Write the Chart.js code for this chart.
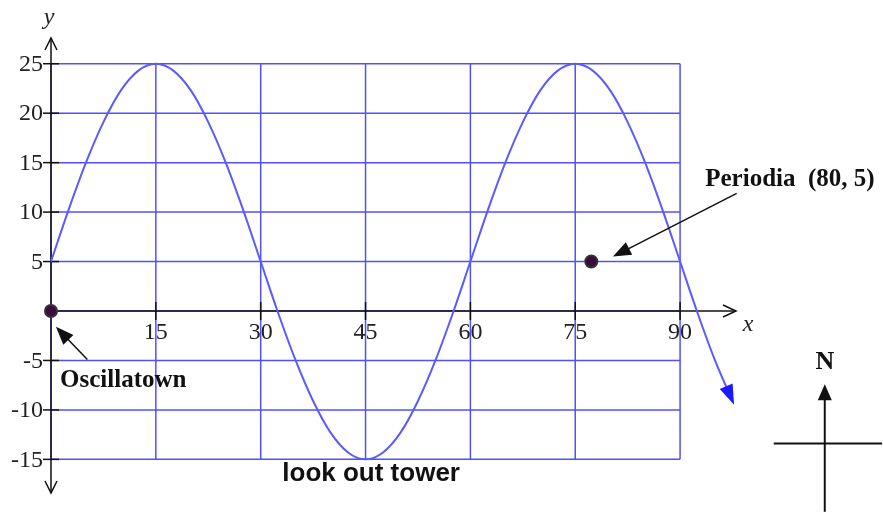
<!DOCTYPE html>
<html>
<head>
<meta charset="utf-8">
<script src="https://cdn.jsdelivr.net/npm/chart.js@4.4.1/dist/chart.umd.min.js"></script>
<style>
html, body { margin: 0; padding: 0; background: #fff; }
</style>
</head>
<body>
<canvas id="chartCanvas" width="883" height="512"></canvas>
<script>
// curve, every 2.5 along x
var curveX = [0, 2.5, 5, 7.5, 10, 12.5, 15, 17.5, 20, 22.5, 25, 27.5, 30, 32.5, 35, 37.5, 40, 42.5, 45, 47.5,
              50, 52.5, 55, 57.5, 60, 62.5, 65, 67.5, 70, 72.5, 75, 77.5, 80, 82.5, 85, 87.5, 90, 92.5, 95, 97.5];
var curveY = [5, 10.2, 15, 19.1, 22.3, 24.3, 25, 24.3, 22.3, 19.1, 15, 10.2, 5, -0.2, -5, -9.1, -12.3, -14.3, -15, -14.3,
              -12.3, -9.1, -5, -0.2, 5, 10.2, 15, 19.1, 22.3, 24.3, 25, 24.3, 22.3, 19.1, 15, 10.2, 5, -0.2, -5, -9.1];

// towns on the map
var placeNames = ["Oscillatown", "Periodia"];
var placeX = [0, 77.3];
var placeY = [0, 5];

// grid and tick labels
var gridX = [0, 15, 30, 45, 60, 75, 90];
var gridY = [-15, -10, -5, 0, 5, 10, 15, 20, 25];
var xTickLabels = [15, 30, 45, 60, 75, 90];
var yTickLabels = [25, 20, 15, 10, 5, -5, -10, -15];

var GRID_BLUE = "#5050ff";
var CURVE_BLUE = "#5a5aff";
var INK = "#111";
var SERIF = '"Liberation Serif", "Times New Roman", serif';
var SANS = '"Liberation Sans", Arial, sans-serif';

function line(ctx, x1, y1, x2, y2) {
    ctx.beginPath();
    ctx.moveTo(x1, y1);
    ctx.lineTo(x2, y2);
    ctx.stroke();
}

// open arrow, two strokes back from the tip
function chevron(ctx, tx, ty, ang, len, half) {
    var bx = tx - Math.cos(ang) * len, by = ty - Math.sin(ang) * len;
    var nx = -Math.sin(ang) * half, ny = Math.cos(ang) * half;
    ctx.beginPath();
    ctx.moveTo(bx + nx, by + ny);
    ctx.lineTo(tx, ty);
    ctx.lineTo(bx - nx, by - ny);
    ctx.stroke();
}

// filled triangle head
function head(ctx, tx, ty, ang, len, half) {
    var bx = tx - Math.cos(ang) * len, by = ty - Math.sin(ang) * len;
    var nx = -Math.sin(ang) * half, ny = Math.cos(ang) * half;
    ctx.beginPath();
    ctx.moveTo(tx, ty);
    ctx.lineTo(bx + nx, by + ny);
    ctx.lineTo(bx - nx, by - ny);
    ctx.closePath();
    ctx.fill();
}

function arrow(ctx, x1, y1, x2, y2) {
    var ang = Math.atan2(y2 - y1, x2 - x1);
    ctx.lineWidth = 1.5;
    line(ctx, x1, y1, x2 - Math.cos(ang) * 10, y2 - Math.sin(ang) * 10);
    head(ctx, x2, y2, ang, 18, 7);
}

var mapPlugin = {
    id: "mapPlugin",
    beforeDatasetsDraw: function(chart) {
        var ctx = chart.ctx, sx = chart.scales.x, sy = chart.scales.y, area = chart.chartArea;
        ctx.save();

        // grid only spans 0..90 and -15..25
        ctx.strokeStyle = GRID_BLUE;
        ctx.lineWidth = 1.5;
        var gx0 = sx.getPixelForValue(gridX[0]), gx1 = sx.getPixelForValue(gridX[gridX.length - 1]);
        var gy0 = sy.getPixelForValue(gridY[0]), gy1 = sy.getPixelForValue(gridY[gridY.length - 1]);
        gridX.forEach(function(v) { var p = sx.getPixelForValue(v); line(ctx, p, gy0, p, gy1); });
        gridY.forEach(function(v) { var p = sy.getPixelForValue(v); line(ctx, gx0, p, gx1, p); });

        // axes
        var ox = sx.getPixelForValue(0), oy = sy.getPixelForValue(0);
        ctx.strokeStyle = INK;
        ctx.lineWidth = 1.5;
        line(ctx, ox, area.top, ox, area.bottom);
        line(ctx, ox, oy, area.right, oy);
        chevron(ctx, ox, area.top, -Math.PI / 2, 12, 6);
        chevron(ctx, ox, area.bottom, Math.PI / 2, 12, 6);
        chevron(ctx, area.right, oy, 0, 13, 6);

        ctx.fillStyle = "#222";
        ctx.font = "24px " + SERIF;
        ctx.textAlign = "right";
        ctx.textBaseline = "middle";
        yTickLabels.forEach(function(v) {
            var p = sy.getPixelForValue(v);
            line(ctx, ox - 8, p, ox + 8, p);
            ctx.fillText(String(v), ox - 8, p + 1);
        });
        ctx.textAlign = "center";
        xTickLabels.forEach(function(v) {
            var p = sx.getPixelForValue(v);
            line(ctx, p, oy - 9, p, oy + 9);
            ctx.fillText(String(v), p, oy + 22);
        });

        ctx.font = "italic 24px " + SERIF;
        ctx.fillText("y", ox - 2, area.top - 20);
        ctx.fillText("x", area.right + 12, oy + 14);
        ctx.restore();
    },
    afterDatasetsDraw: function(chart) {
        var ctx = chart.ctx, sx = chart.scales.x, sy = chart.scales.y;
        ctx.save();

        // arrow head at the end of the curve
        var pts = chart.getDatasetMeta(0).data;
        var a = pts[pts.length - 2], b = pts[pts.length - 1];
        var ang = Math.atan2(b.y - a.y, b.x - a.x);
        ctx.fillStyle = "#1a1aff";
        head(ctx, b.x + Math.cos(ang) * 4, b.y + Math.sin(ang) * 4, ang, 20, 7);

        ctx.fillStyle = INK;
        ctx.strokeStyle = INK;
        function P(x, y) { return [sx.getPixelForValue(x), sy.getPixelForValue(y)]; }

        // labels for the towns
        ctx.font = "bold 25px " + SERIF;
        ctx.textAlign = "left";
        ctx.textBaseline = "alphabetic";
        var t = P(93.6, 12.6);
        ctx.fillText(placeNames[1] + "  (80, 5)", t[0], t[1]);
        var s = P(98.1, 11.9), e = P(80.4, 5.5);
        arrow(ctx, s[0], s[1], e[0], e[1]);

        t = P(1.3, -7.7);
        ctx.fillText(placeNames[0], t[0], t[1]);
        s = P(5.2, -4.9); e = P(0.7, -1.6);
        arrow(ctx, s[0], s[1], e[0], e[1]);

        ctx.font = "bold 26px " + SANS;
        ctx.textAlign = "center";
        t = P(45.8, -17.2);
        ctx.fillText("look out tower", t[0], t[1]);

        // compass
        var c = P(110.7, -13.4), h0 = P(103.4, 0), h1 = P(118.9, 0), up = P(0, -7.4), dn = P(0, -20.3);
        ctx.lineWidth = 2;
        line(ctx, h0[0], c[1], h1[0], c[1]);
        line(ctx, c[0], dn[1], c[0], up[1] + 10);
        head(ctx, c[0], up[1], -Math.PI / 2, 16, 7);
        ctx.font = "bold 26px " + SERIF;
        var n = P(0, -5.9);
        ctx.fillText("N", c[0], n[1]);
        ctx.restore();
    }
};

var curvePoints = curveX.map(function(x, i) { return { x: x, y: curveY[i] }; });
var placePoints = placeX.map(function(x, i) { return { x: x, y: placeY[i] }; });

var chart = new Chart(document.getElementById("chartCanvas"), {
    type: "scatter",
    data: {
        datasets: [{
            data: curvePoints,
            showLine: true,
            borderColor: CURVE_BLUE,
            borderWidth: 2,
            pointRadius: 0,
            cubicInterpolationMode: "monotone",
            clip: false
        }, {
            data: placePoints,
            pointRadius: 6,
            pointBackgroundColor: "#3c0a3c",
            pointBorderColor: "#333",
            pointBorderWidth: 2,
            clip: false
        }]
    },
    options: {
        responsive: false,
        animation: false,
        layout: { padding: { left: 51, right: 147, top: 38, bottom: 19 } },
        plugins: { legend: { display: false }, tooltip: { enabled: false } },
        scales: {
            x: { type: "linear", min: 0, max: 98, display: false },
            y: { type: "linear", min: -18.4, max: 27.6, display: false }
        }
    },
    plugins: [mapPlugin]
});
</script>
</body>
</html>
